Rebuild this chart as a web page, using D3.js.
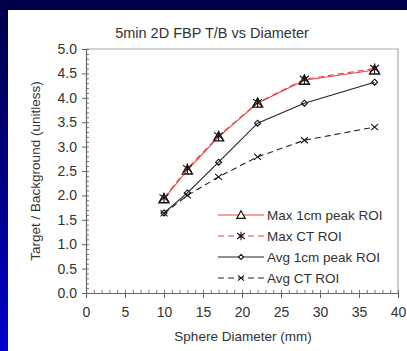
<!DOCTYPE html>
<html>
<head>
<meta charset="utf-8">
<script src="https://cdn.jsdelivr.net/npm/d3@7"></script>
<style>
  html, body { margin: 0; padding: 0; }
  body { width: 407px; height: 351px; overflow: hidden;
         background: linear-gradient(to bottom, #000048 0%, #00008a 55%, #0000d0 100%); }
  #panel { position: absolute; left: 8px; top: 10px; width: 399px; height: 341px; background: #fff; }
  svg { position: absolute; left: 0; top: 0; }
  text { font-family: "Liberation Sans", Arial, sans-serif; fill: #333; }
</style>
</head>
<body>
<div id="panel"></div>
<div id="chart"></div>
<script>
// sphere diameters (mm)
var diameters = [10, 13, 17, 22, 28, 37]
// target / background ratios
var max1cm = [1.93, 2.52, 3.20, 3.89, 4.36, 4.57]
var maxCT  = [1.95, 2.55, 3.22, 3.90, 4.38, 4.60]
var avg1cm = [1.64, 2.05, 2.68, 3.48, 3.89, 4.32]
var avgCT  = [1.63, 2.00, 2.38, 2.79, 3.13, 3.40]

var seriesNames = ["Max 1cm peak ROI", "Max CT ROI", "Avg 1cm peak ROI", "Avg CT ROI"]
var xTicks = [0, 5, 10, 15, 20, 25, 30, 35, 40]
var yTicks = [0, 0.5, 1, 1.5, 2, 2.5, 3, 3.5, 4, 4.5, 5]

var margin = { top: 49, right: 9, bottom: 58, left: 86 }
var width = 407 - margin.left - margin.right
var height = 351 - margin.top - margin.bottom

var svg = d3.select("#chart").append("svg")
  .attr("width", 407).attr("height", 351)
var g = svg.append("g")
  .attr("transform", "translate(" + margin.left + "," + margin.top + ")")

var x = d3.scaleLinear().domain([0, 40]).range([0, width])
var y = d3.scaleLinear().domain([0, 5]).range([height, 0])

// frame (top / right)
g.append("path")
  .attr("d", "M0,0H" + width + "V" + height)
  .attr("fill", "none").attr("stroke", "#aaa").attr("stroke-width", 1.2)

// minor ticks
g.append("g")
  .attr("transform", "translate(0," + height + ")")
  .call(d3.axisTop(x).tickValues(d3.range(0, 41, 1)).tickSize(3).tickFormat(""))
  .call(function(s) { s.select(".domain").remove() })
  .selectAll("line").attr("stroke", "#777")
g.append("g")
  .call(d3.axisRight(y).tickValues(d3.range(0, 5.01, 0.1)).tickSize(3).tickFormat(""))
  .call(function(s) { s.select(".domain").remove() })
  .selectAll("line").attr("stroke", "#777")

// X axis
var xAxis = g.append("g")
  .attr("transform", "translate(0," + height + ")")
  .call(d3.axisBottom(x).tickValues(xTicks).tickSize(5).tickPadding(9))
xAxis.select(".domain").attr("stroke", "#666").attr("stroke-width", 1.2)
xAxis.selectAll("line").attr("stroke", "#666")
xAxis.selectAll("text").style("font-size", "14px").attr("fill", "#333")

// Y axis
var yAxis = g.append("g")
  .call(d3.axisLeft(y).tickValues(yTicks).tickSize(4).tickPadding(5).tickFormat(d3.format(".1f")))
yAxis.select(".domain").attr("stroke", "#666").attr("stroke-width", 1.2)
yAxis.selectAll("line").attr("stroke", "#666")
yAxis.selectAll("text").style("font-size", "14px").attr("fill", "#333")

// title and axis labels
svg.append("text").attr("x", 212).attr("y", 38).attr("text-anchor", "middle")
  .style("font-size", "14.5px").text("5min 2D FBP T/B vs Diameter")
svg.append("text").attr("x", 243).attr("y", 341).attr("text-anchor", "middle")
  .style("font-size", "13.5px").text("Sphere Diameter (mm)")
svg.append("text")
  .attr("transform", "translate(40,171) rotate(-90)")
  .attr("text-anchor", "middle")
  .style("font-size", "13.5px").text("Target / Background (unitless)")

// markers
function markerPath(type, cx, cy, k) {
  k = k || 1
  if (type === "triangle") {
    return "M" + cx + "," + (cy - 5 * k) + "L" + (cx + 5 * k) + "," + (cy + 4 * k) + "L" + (cx - 5 * k) + "," + (cy + 4 * k) + "Z"
  } else if (type === "star") {
    return "M" + cx + "," + (cy - 5 * k) + "V" + (cy + 5 * k) +
      "M" + (cx - 4.5 * k) + "," + (cy - 3.5 * k) + "L" + (cx + 4.5 * k) + "," + (cy + 3.5 * k) +
      "M" + (cx - 4.5 * k) + "," + (cy + 3.5 * k) + "L" + (cx + 4.5 * k) + "," + (cy - 3.5 * k)
  } else if (type === "diamond") {
    return "M" + cx + "," + (cy - 3 * k) + "L" + (cx + 3 * k) + "," + cy + "L" + cx + "," + (cy + 3 * k) + "L" + (cx - 3 * k) + "," + cy + "Z"
  } else {
    return "M" + (cx - 3.5 * k) + "," + (cy - 3 * k) + "L" + (cx + 3.5 * k) + "," + (cy + 3 * k) +
      "M" + (cx - 3.5 * k) + "," + (cy + 3 * k) + "L" + (cx + 3.5 * k) + "," + (cy - 3 * k)
  }
}

var series = [
  { name: seriesNames[0], values: max1cm, color: "#e64448", dash: null, marker: "triangle" },
  { name: seriesNames[1], values: maxCT, color: "#e64448", dash: "6,4", marker: "star" },
  { name: seriesNames[2], values: avg1cm, color: "#222", dash: null, marker: "diamond" },
  { name: seriesNames[3], values: avgCT, color: "#222", dash: "6,4", marker: "cross" }
]

var line = d3.line()
  .x(function(d) { return x(d[0]) })
  .y(function(d) { return y(d[1]) })

series.forEach(function(s) {
  var pts = diameters.map(function(d, i) { return [d, s.values[i]] })
  g.append("path")
    .attr("d", line(pts))
    .attr("fill", "none")
    .attr("stroke", s.color)
    .attr("stroke-width", 1.1)
    .attr("stroke-dasharray", s.dash)
  g.append("g").selectAll("path")
    .data(pts)
    .enter()
    .append("path")
      .attr("d", function(d) { return markerPath(s.marker, x(d[0]), y(d[1])) })
      .attr("fill", "none")
      .attr("stroke", "#111")
      .attr("stroke-width", s.marker === "triangle" ? 1.4 : 1.1)
})

// legend
var legend = svg.append("g")
var rowY = [215, 236, 257, 278]
series.forEach(function(s, i) {
  var ly = rowY[i]
  legend.append("line")
    .attr("x1", 218).attr("x2", 264).attr("y1", ly).attr("y2", ly)
    .attr("stroke", s.color).attr("stroke-width", 1.1)
    .attr("stroke-dasharray", s.dash)
  legend.append("path")
    .attr("d", markerPath(s.marker, 241, ly, 0.85))
    .attr("fill", s.marker === "triangle" || s.marker === "diamond" ? "#fff" : "none")
    .attr("stroke", "#111").attr("stroke-width", 1.1)
  legend.append("text")
    .attr("x", 267).attr("y", ly + 5)
    .style("font-size", "13.5px")
    .text(s.name)
})
</script>
</body>
</html>
